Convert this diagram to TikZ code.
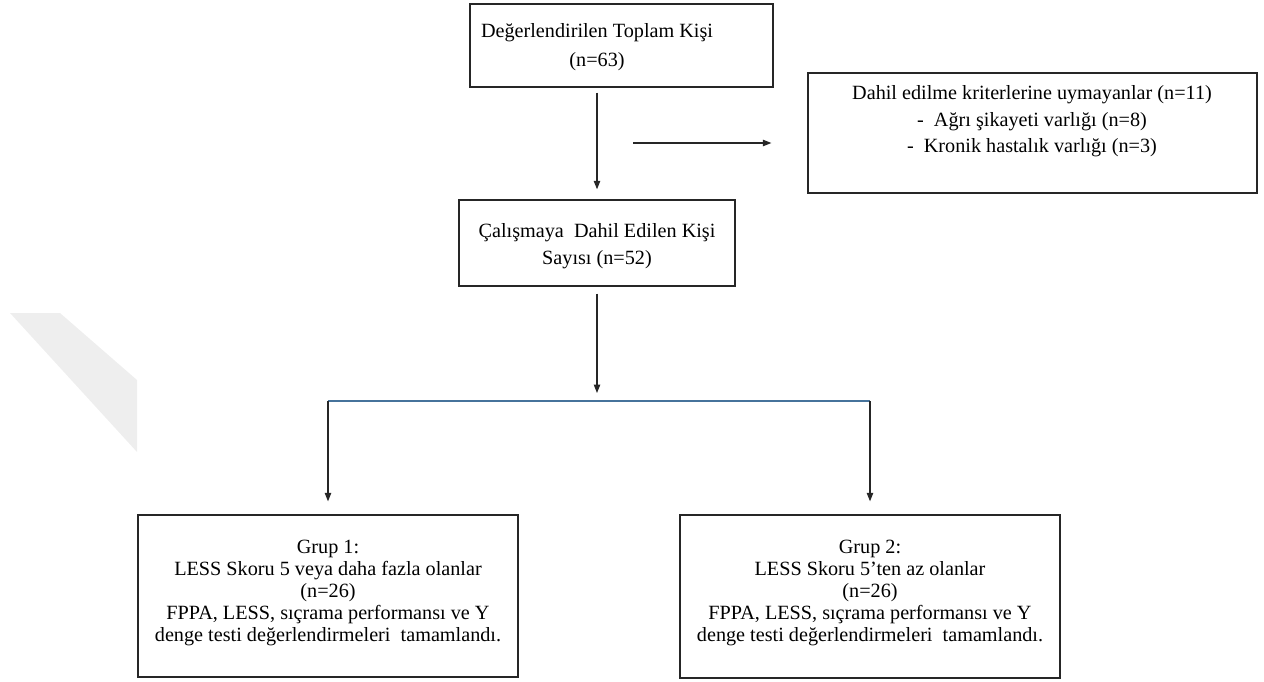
\documentclass[tikz,border=0pt]{standalone}
\usepackage{fontspec}
\setmainfont{Liberation Serif}
\usepackage{xcolor}
\usetikzlibrary{arrows.meta}
\definecolor{forkblue}{RGB}{70,115,155}
\definecolor{wmgray}{RGB}{238,238,238}

\begin{document}
\begin{tikzpicture}[x=0.02cm,y=-0.02cm,
    box/.style={draw=black!85,line width=0.8pt,inner sep=0pt},
    txt/.style={align=center,inner sep=0pt,font=\fontsize{11.5}{#1}\selectfont},
    txt/.default=13pt,
    arr/.style={-{Triangle[length=1.7mm,width=1.3mm]},line width=0.6pt,draw=black!85}]
    \useasboundingbox (0,0) rectangle (1264,682);
    \fill[wmgray] (10,313) -- (60,313) -- (137,380) -- (137,452) -- cycle;

    \node[box,minimum width=6.06cm,minimum height=1.66cm] (total) at (621.5,45.5) {};
    \node[txt=16.5pt] (totaltxt) at (597,47.5) {Değerlendirilen Toplam Kişi\\(n=63)};
    \node[box,minimum width=8.98cm,minimum height=2.4cm] (excl) at (1032.5,133) {};
    \node[txt=15pt] (excltxt) at (1032,121.5) {Dahil edilme kriterlerine uymayanlar (n=11)\\
        -\ \ Ağrı şikayeti varlığı (n=8)\\-\ \ Kronik hastalık varlığı (n=3)};
    \node[box,minimum width=5.52cm,minimum height=1.72cm] (incl) at (597,243) {};
    \node[txt=15.5pt] (incltxt) at (597,246.5) {Çalışmaya\ \ Dahil Edilen Kişi\\Sayısı (n=52)};
    \node[box,minimum width=7.6cm,minimum height=3.24cm] (grupA) at (328,596) {};
    \node[txt=12.6pt] (grupAtxt) at (328,593) {Grup 1:\\LESS Skoru 5 veya daha fazla olanlar\\(n=26)\\
        FPPA, LESS, sıçrama performansı ve Y\\denge testi değerlendirmeleri\ \ tamamlandı.};
    \node[box,minimum width=7.6cm,minimum height=3.26cm] (grupB) at (870,596.5) {};
    \node[txt=12.6pt] (grupBtxt) at (870,593) {Grup 2:\\LESS Skoru 5’ten az olanlar\\(n=26)\\
        FPPA, LESS, sıçrama performansı ve Y\\denge testi değerlendirmeleri\ \ tamamlandı.};

    \coordinate (split) at (597,143);
    \coordinate (fork) at (597,401);
    \draw[arr,shorten <=0.1cm,shorten >=0.2cm] (total.south -| incl.north) -- (incl.north);
    \draw[arr,shorten <=0.72cm,shorten >=0.72cm] (split) -- (split -| excl.west);
    \draw[arr,shorten <=0.14cm,shorten >=0.16cm] (incl.south) -- (fork);
    \draw[forkblue,line width=0.6pt] (fork -| grupA.north) -- (fork -| grupB.north);
    \foreach \g in {grupA,grupB}
    \draw[arr,shorten >=0.26cm] (fork -| \g.north) -- (\g.north);
\end{tikzpicture}
\end{document}
